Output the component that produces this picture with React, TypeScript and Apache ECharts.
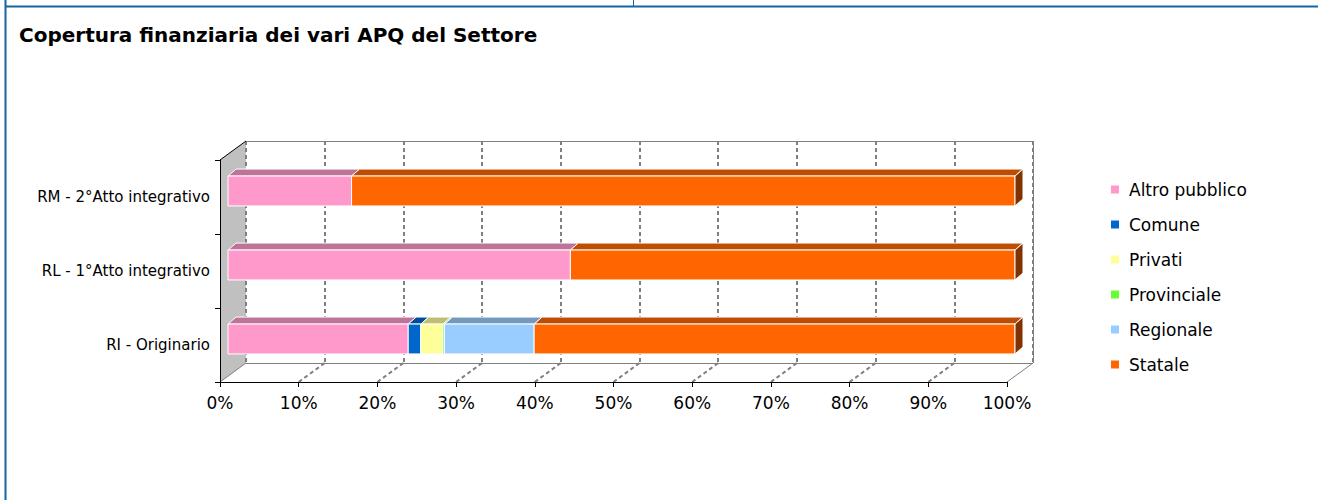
import React, { useEffect, useRef } from "react";
import * as echarts from "echarts";

const categories = ["RI - Originario", "RL - 1°Atto integrativo", "RM - 2°Atto integrativo"];
const seriesNames = ["Altro pubblico", "Comune", "Privati", "Provinciale", "Regionale", "Statale"];
const altroPubblico = [22.9, 43.5, 15.7];
const comune = [1.6, 0, 0];
const privati = [2.8, 0, 0];
const provinciale = [0.2, 0, 0];
const regionale = [11.4, 0, 0];
const statale = [61.1, 56.5, 84.3];
const xTickValues = [0, 10, 20, 30, 40, 50, 60, 70, 80, 90, 100];
const titleText = "Copertura finanziaria dei vari APQ del Settore";

const frontColors = ["#FF99CC", "#0066CC", "#FFFF99", "#66FF33", "#99CCFF", "#FF6600"];
const topColors = ["#BF7399", "#004C99", "#BFBF73", "#4CBF26", "#7399BF", "#BF4C00"];
const sideColors = ["#803366", "#003366", "#80804C", "#338019", "#4C6680", "#803300"];

const FONT = "DejaVu Sans";
const GRID_LEFT = 220;
const GRID_TOP = 160;
const GRID_W = 787;
const GRID_H = 222;
const DX = 26;
const DY = -19;
const BAR_SHIFT_X = 8;
const BAR_SHIFT_Y = -6;
const BAR_DX = 8;
const BAR_DY = -7;
const BAR_RATIO = 0.404;
const FRAME_BLUE = "#1465a0";
const GRAY = "#808080";

export default function App() {
  const ref = useRef<HTMLDivElement>(null);
  useEffect(() => {
    if (!ref.current) return;
    const chart = echarts.init(ref.current, undefined, { renderer: "svg" });
    const allValues = [altroPubblico, comune, privati, provinciale, regionale, statale];

    const seriesData: any[][] = allValues.map(() => []);
    categories.forEach((_, ci) => {
      let acc = 0;
      allValues.forEach((vals, si) => {
        const v = vals[ci];
        if (v > 0) {
          const start = acc;
          const end = acc + v;
          seriesData[si].push([start, end, ci, end >= 99.95 ? 1 : 0]);
          acc = end;
        }
      });
    });

    const series = seriesNames.map((name, si) => ({
      type: "custom",
      name,
      xAxisIndex: 0,
      yAxisIndex: 0,
      z: 5,
      itemStyle: { color: frontColors[si] },
      encode: { x: [0, 1], y: 2 },
      data: seriesData[si],
      renderItem: (params: any, api: any) => {
        const start = api.value(0);
        const end = api.value(1);
        const cat = api.value(2);
        const last = api.value(3);
        const a = api.coord([start, cat]);
        const b = api.coord([end, cat]);
        const band = api.size([0, 1])[1];
        const h = band * BAR_RATIO;
        const x0 = a[0] + BAR_SHIFT_X;
        const x1 = b[0] + BAR_SHIFT_X;
        const yc = a[1] + BAR_SHIFT_Y;
        const yt = yc - h / 2;
        const yb = yc + h / 2;
        const children: any[] = [
          {
            type: "polygon",
            shape: { points: [[x0, yt], [x1, yt], [x1 + BAR_DX, yt + BAR_DY], [x0 + BAR_DX, yt + BAR_DY]] },
            style: { fill: topColors[si], stroke: "#ffffff", lineWidth: 1 },
          },
          {
            type: "rect",
            shape: { x: x0, y: yt, width: x1 - x0, height: h },
            style: { fill: frontColors[si], stroke: "#ffffff", lineWidth: 1 },
          },
        ];
        if (last) {
          children.push({
            type: "polygon",
            shape: { points: [[x1, yt], [x1 + BAR_DX, yt + BAR_DY], [x1 + BAR_DX, yb + BAR_DY], [x1, yb]] },
            style: { fill: sideColors[si], stroke: "#ffffff", lineWidth: 1 },
          });
        }
        return { type: "group", children };
      },
    }));

    const bottom = GRID_TOP + GRID_H;
    const graphics: any[] = [
      // frame lines
      { type: "line", z: 10, shape: { x1: 5.5, y1: 0, x2: 5.5, y2: 500 }, style: { stroke: FRAME_BLUE, lineWidth: 2 } },
      { type: "line", z: 10, shape: { x1: 5, y1: 6.5, x2: 1318, y2: 6.5 }, style: { stroke: FRAME_BLUE, lineWidth: 2 } },
      { type: "line", z: 10, shape: { x1: 633.5, y1: 0, x2: 633.5, y2: 6 }, style: { stroke: FRAME_BLUE, lineWidth: 1 } },
      // left wall
      {
        type: "polygon", z: 0,
        shape: { points: [[GRID_LEFT, GRID_TOP], [GRID_LEFT + DX, GRID_TOP + DY], [GRID_LEFT + DX, bottom + DY], [GRID_LEFT, bottom]] },
        style: { fill: "#C0C0C0" },
      },
      { type: "line", z: 3, shape: { x1: GRID_LEFT, y1: GRID_TOP, x2: GRID_LEFT + DX, y2: GRID_TOP + DY }, style: { stroke: "#000", lineWidth: 1 } },
      { type: "line", z: 3, shape: { x1: GRID_LEFT, y1: bottom, x2: GRID_LEFT + DX, y2: bottom + DY }, style: { stroke: GRAY, lineWidth: 1 } },
      // back wall edges
      { type: "line", z: 2, shape: { x1: GRID_LEFT + DX, y1: GRID_TOP + DY + 0.5, x2: GRID_LEFT + GRID_W + DX, y2: GRID_TOP + DY + 0.5 }, style: { stroke: GRAY, lineWidth: 1 } },
      { type: "line", z: 2, shape: { x1: GRID_LEFT + GRID_W + DX + 0.5, y1: GRID_TOP + DY, x2: GRID_LEFT + GRID_W + DX + 0.5, y2: bottom + DY }, style: { stroke: GRAY, lineWidth: 1 } },
      { type: "line", z: 2, shape: { x1: GRID_LEFT + DX, y1: bottom + DY + 0.5, x2: GRID_LEFT + GRID_W + DX, y2: bottom + DY + 0.5 }, style: { stroke: GRAY, lineWidth: 1 } },
      { type: "line", z: 2, shape: { x1: GRID_LEFT + GRID_W, y1: bottom, x2: GRID_LEFT + GRID_W + DX, y2: bottom + DY }, style: { stroke: GRAY, lineWidth: 1 } },
    ];
    xTickValues.forEach((v) => {
      if (v === 0 || v === 100) return;
      const fx = GRID_LEFT + (v / 100) * GRID_W;
      graphics.push({
        type: "line", z: 2,
        shape: { x1: fx, y1: bottom, x2: fx + DX, y2: bottom + DY },
        style: { stroke: GRAY, lineWidth: 2, lineDash: [4, 3] },
      });
    });

    chart.setOption({
      animation: false,
      backgroundColor: "#ffffff",
      title: {
        text: titleText,
        left: 19,
        top: 25,
        padding: 0,
        textStyle: { fontFamily: FONT, fontWeight: "bold", fontSize: 20, color: "#000", lineHeight: 20 },
      },
      legend: {
        orient: "vertical",
        left: 1111,
        top: 181,
        padding: 0,
        itemWidth: 8,
        itemHeight: 8,
        itemGap: 18,
        icon: "rect",
        selectedMode: false,
        itemStyle: { borderWidth: 0 },
        textStyle: { fontFamily: FONT, fontSize: 17, color: "#000", lineHeight: 17, padding: [0, 0, 0, 5] },
        data: seriesNames,
      },
      grid: [
        { left: GRID_LEFT, top: GRID_TOP, width: GRID_W, height: GRID_H, containLabel: false },
        { left: GRID_LEFT + DX, top: GRID_TOP + DY, width: GRID_W, height: GRID_H, containLabel: false },
      ],
      xAxis: [
        {
          type: "value", gridIndex: 0, min: 0, max: 100, interval: 10, z: 3,
          axisLine: { show: true, lineStyle: { color: "#000", width: 1 } },
          axisTick: { show: true, length: 5, lineStyle: { color: "#000" } },
          axisLabel: { formatter: "{value}%", fontFamily: FONT, fontSize: 17, color: "#000", margin: 12 },
          splitLine: { show: false },
        },
        {
          type: "value", gridIndex: 1, min: 0, max: 100, interval: 10, z: 1,
          axisLine: { show: false }, axisTick: { show: false }, axisLabel: { show: false },
          splitLine: { show: true, lineStyle: { color: GRAY, width: 2, type: [4, 3] } },
        },
      ],
      yAxis: [
        {
          type: "category", gridIndex: 0, data: categories, z: 3,
          axisLine: { show: true, lineStyle: { color: "#000", width: 1 } },
          axisTick: { show: true, length: 5, lineStyle: { color: "#000" } },
          axisLabel: { fontFamily: FONT, fontSize: 15, color: "#000", margin: 10 },
          splitLine: { show: false },
        },
        {
          type: "category", gridIndex: 1, data: categories, show: false,
        },
      ],
      graphic: graphics,
      series,
    });
    return () => chart.dispose();
  }, []);
  return <div ref={ref} style={{ position: "fixed", left: 0, top: 0, width: 1318, height: 500 }} />;
}
